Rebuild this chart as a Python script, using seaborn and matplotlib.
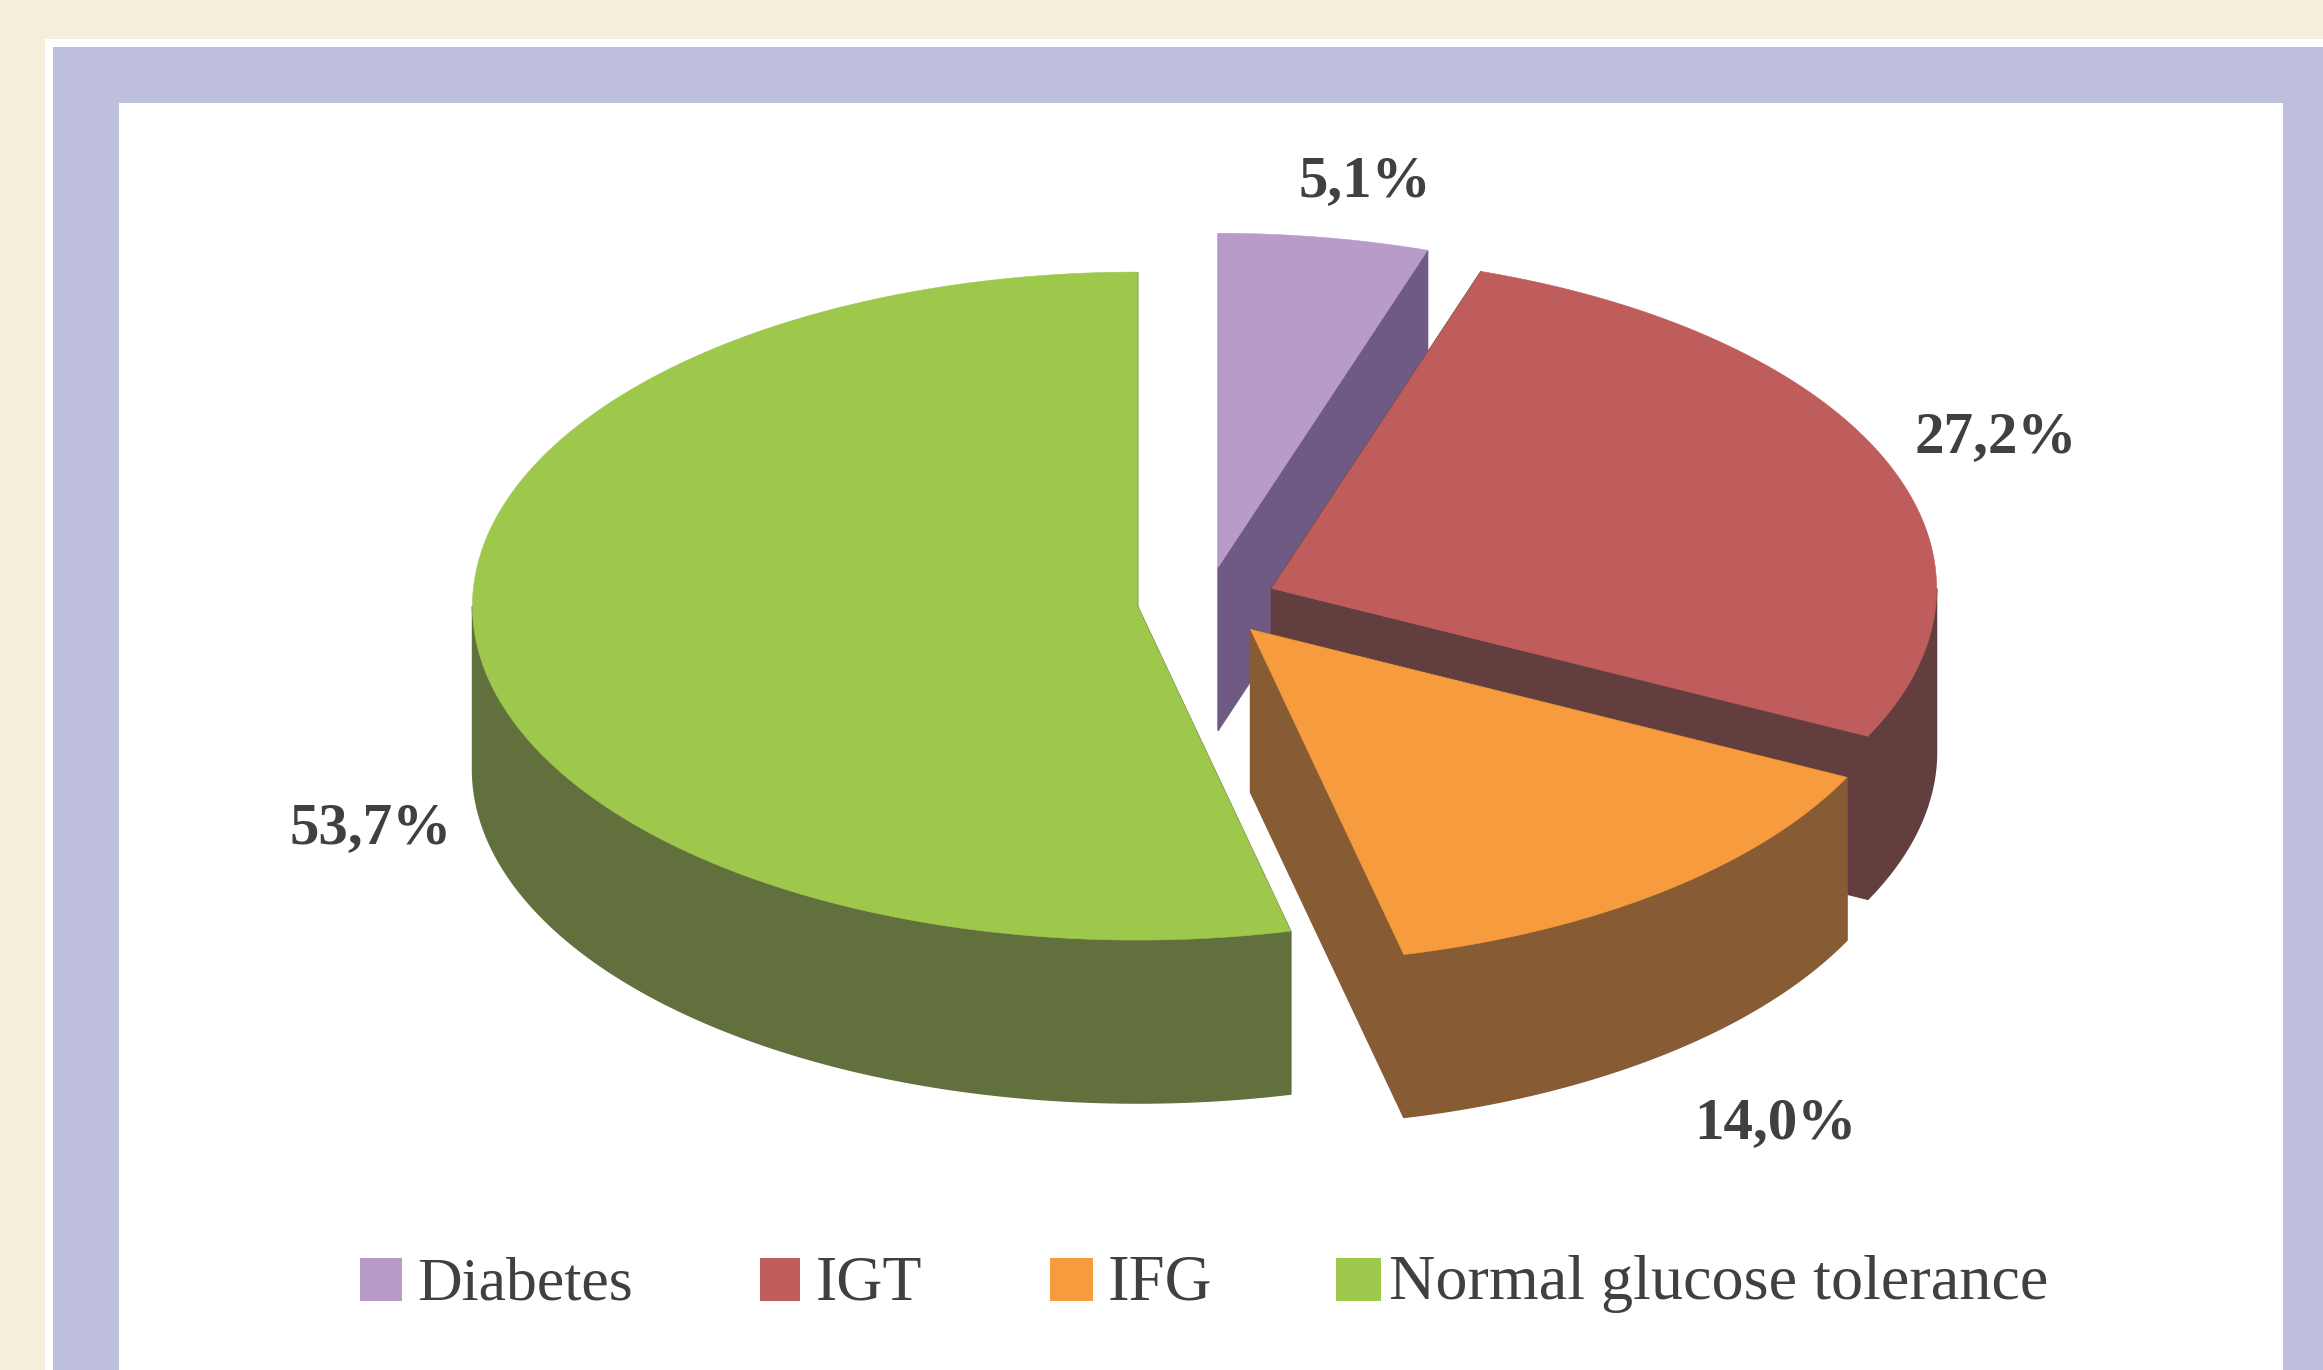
import numpy as np
import matplotlib
matplotlib.use("Agg")
import matplotlib.pyplot as plt
from matplotlib.patches import Polygon, Rectangle
import seaborn as sns

categories = ["Diabetes", "IGT", "IFG", "Normal glucose tolerance"]
values = [5.1, 27.2, 14.0, 53.7]
top_colors = ["#B89BC9", "#BE5D5B", "#F79C3E", "#9DC84B"]
side_colors = ["#6E5A82", "#623E3E", "#875B34", "#62703D"]

sns.set_theme(style="white")
plt.rcParams["font.family"] = ["Liberation Serif", "DejaVu Serif"]

W, H = 2323, 1370
CREAM, BAND, TXT = "#F5EEDB", "#BEBFDD", "#404040"
fig = plt.figure(figsize=(W / 100, H / 100), dpi=100, facecolor=CREAM)
ax = fig.add_axes([0, 0, 1, 1])
ax.set_xlim(0, W)
ax.set_ylim(H, 0)
ax.axis("off")

# frame
ax.add_patch(Rectangle((45, 39), W - 45, H - 39, fc="white", ec="none", zorder=0))
ax.add_patch(Rectangle((53, 47), W - 53, H - 47, fc=BAND, ec="none", zorder=0.1))
ax.add_patch(Rectangle((119, 103), 2283 - 119, H - 103, fc="white", ec="none", zorder=0.2))

# pie geometry
cx, cy, rx, ry, depth, explode = 1207, 602, 665, 334, 163, 70

def point(theta):
    return np.sin(theta) * rx, -np.cos(theta) * ry

start = 0.0
for val, top, side in zip(values, top_colors, side_colors):
    sweep = val / sum(values) * 2 * np.pi
    end = start + sweep
    mid = start + sweep / 2
    ox = cx + np.sin(mid) * explode
    oy = cy - np.cos(mid) * explode * ry / rx
    z = 1 + start

    # cut faces
    for a in (start, end):
        px, py = point(a)
        quad = [(ox, oy), (ox + px, oy + py), (ox + px, oy + py + depth), (ox, oy + depth)]
        ax.add_patch(Polygon(quad, closed=True, fc=side, ec=side, lw=1.0, zorder=z))

    # front rim: only the part of the arc facing the viewer
    lo, hi = max(start, np.pi / 2), min(end, 3 * np.pi / 2)
    if hi > lo:
        th = np.linspace(lo, hi, 200)
        ex, ey = point(th)
        rim = np.r_[np.c_[ox + ex, oy + ey], np.c_[ox + ex, oy + ey + depth][::-1]]
        ax.add_patch(Polygon(rim, closed=True, fc=side, ec=side, lw=1.0, zorder=z))

    # top face
    th = np.linspace(start, end, 300)
    ex, ey = point(th)
    ax.add_patch(Polygon(np.r_[[(ox, oy)], np.c_[ox + ex, oy + ey]], closed=True,
                         fc=top, ec=top, lw=0.4, zorder=z + 0.01))
    start = end

# percentage labels
label_x = [1365, 1996, 1775, 371]
label_y = [176, 432, 1118, 823]
for v, lx, ly in zip(values, label_x, label_y):
    ax.text(lx, ly, f"{v:.1f}".replace(".", ",") + "%", ha="center", va="center_baseline",
            fontsize=42.5, fontweight="bold", color=TXT, zorder=20)

# legend
swatch_x = [360, 760, 1050, 1336]
swatch_w = [42, 40, 43, 45]
text_x = [417, 816, 1108, 1389]
legend_size = [44.5, 46, 46.6, 46.2]
for name, col, sx, sw, tx, fs in zip(categories, top_colors, swatch_x, swatch_w, text_x, legend_size):
    ax.add_patch(Rectangle((sx, 1258), sw, 43, fc=col, ec="none", zorder=20))
    ax.text(tx, 1299, name, ha="left", va="baseline", fontsize=fs, color=TXT, zorder=20)

fig.savefig("out.png", dpi=100, facecolor=CREAM)
